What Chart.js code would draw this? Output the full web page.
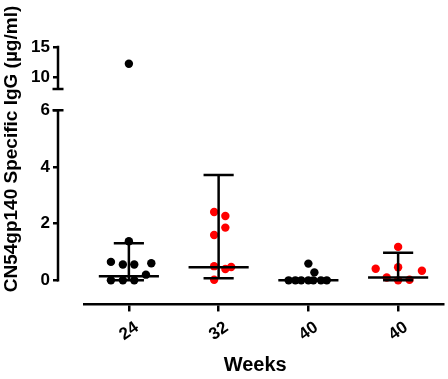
<!DOCTYPE html>
<html>
<head>
<meta charset="utf-8">
<script src="https://cdn.jsdelivr.net/npm/chart.js@4/dist/chart.umd.min.js"></script>
<style>
  html, body { margin: 0; padding: 0; background: #fff; }
</style>
</head>
<body>
<canvas id="igg_chart" width="448" height="379"></canvas>
<script>
var weeks = ['24', '32', '40', '40'];

// CN54gp140 specific IgG per animal (µg/ml)
var igg24 = [12.2, 1.38, 0.65, 0.56, 0.56, 0.6, 0.2, 0, 0, 0];
var igg32 = [2.41, 2.27, 1.86, 1.6, 0.5, 0.4, 0.47, 0.02];
var igg40a = [0.59, 0.28, 0, 0, 0, 0, 0, 0, 0];
var igg40b = [1.18, 0.41, 0.46, 0.34, 0.1, 0, 0.02];

// sideways scatter of the dots inside each column (category units)
var spread24 = [0, 0, -0.2, -0.067, 0.06, 0.25, 0.19, -0.2, -0.067, 0.06];
var spread32 = [-0.05, 0.075, 0.075, -0.05, -0.05, 0.075, 0.14, -0.05];
var spread40a = [0, 0.067, -0.22, -0.145, -0.08, 0, 0.056, 0.14, 0.205];
var spread40b = [0, -0.25, 0, 0.265, -0.127, 0, 0.127];

// median and bar ends
var medians = [0.14, 0.46, 0, 0.1];
var lows = [0, 0.07, 0, 0];
var highs = [1.31, 3.72, 0, 0.97];

var yTicksLow = [0, 2, 4, 6];
var yTicksHigh = [10, 15];
var breakLow = 6, breakHigh = 8;

var yTitle = 'CN54gp140 Specific IgG (\u00b5g/ml)';
var xTitle = 'Weeks';

var groups = [igg24, igg32, igg40a, igg40b];
var spreads = [spread24, spread32, spread40a, spread40b];
var dotColors = ['#000000', '#ff0000', '#000000', '#ff0000'];

var FONT = "'Liberation Sans', Arial, sans-serif";
Chart.defaults.font.family = FONT;
Chart.defaults.color = '#000';

var datasets = [];
groups.forEach(function (vals, i) {
   var low = [], high = [];
   vals.forEach(function (v, j) {
      var p = {x: i + spreads[i][j], y: v};
      if (v > breakLow) high.push(p); else low.push(p);
   });
   var dots = {
      type: 'scatter', order: 2, pointRadius: 4.2, pointBorderWidth: 0,
      backgroundColor: dotColors[i], borderColor: dotColors[i]
   };
   datasets.push(Object.assign({data: low, yAxisID: 'y'}, dots));
   if (high.length) datasets.push(Object.assign({data: high, yAxisID: 'y2'}, dots));

   // median line, whisker and caps
   var segs = [
      [[i - 0.335, medians[i]], [i + 0.335, medians[i]]],
      [[i, lows[i]], [i, highs[i]]],
      [[i - 0.168, highs[i]], [i + 0.168, highs[i]]],
      [[i - 0.168, lows[i]], [i + 0.168, lows[i]]]
   ];
   segs.forEach(function (s) {
      datasets.push({
         type: 'scatter', order: 1, showLine: true, yAxisID: 'y',
         data: s.map(function (q) { return {x: q[0], y: q[1]}; }),
         borderColor: '#000', borderWidth: 2.5, pointRadius: 0
      });
   });
});

var brokenAxis = {
   id: 'brokenAxis',
   afterDraw: function (chart) {
      var ctx = chart.ctx;
      var lo = chart.scales.y, hi = chart.scales.y2;
      var x = lo.right;
      ctx.save();
      ctx.strokeStyle = '#000';
      ctx.lineWidth = 2.5;
      ctx.beginPath();
      ctx.moveTo(x, lo.getPixelForValue(yTicksLow[0]) + 1.2);
      ctx.lineTo(x, lo.getPixelForValue(breakLow));
      ctx.moveTo(x - 5.5, lo.getPixelForValue(breakLow));
      ctx.lineTo(x + 5.5, lo.getPixelForValue(breakLow));
      ctx.moveTo(x, hi.getPixelForValue(breakHigh));
      ctx.lineTo(x, hi.getPixelForValue(yTicksHigh[yTicksHigh.length - 1]) - 1.2);
      ctx.moveTo(x - 5.5, hi.getPixelForValue(breakHigh));
      ctx.lineTo(x + 5.5, hi.getPixelForValue(breakHigh));
      ctx.stroke();
      // y title
      ctx.translate(12, 149);
      ctx.rotate(-Math.PI / 2);
      ctx.font = 'bold 19px ' + FONT;
      ctx.fillStyle = '#000';
      ctx.textAlign = 'center';
      ctx.textBaseline = 'middle';
      ctx.fillText(yTitle, 0, 0);
      ctx.restore();
   }
};

var tickFont = {size: 17, weight: 'bold'};
var yGrid = {display: true, drawOnChartArea: false, drawTicks: true, tickLength: 5, color: '#000', lineWidth: 2.5};

var ctx = document.getElementById('igg_chart').getContext('2d');
var igg_chart = new Chart(ctx, {
   type: 'scatter',
   data: {datasets: datasets},
   plugins: [brokenAxis],
   options: {
      responsive: false,
      animation: false,
      layout: {padding: {left: 0, right: 5, top: 0, bottom: 1}},
      plugins: {legend: {display: false}, tooltip: {enabled: false}},
      scales: {
         x: {
            type: 'linear', min: -0.5, max: 3.5,
            afterBuildTicks: function (scale) {
               scale.ticks = weeks.map(function (w, i) { return {value: i}; });
            },
            ticks: {
               font: tickFont, minRotation: 35, maxRotation: 35, padding: 6, labelOffset: 8,
               callback: function (v) { return weeks[Math.round(v)]; }
            },
            grid: {display: true, drawOnChartArea: false, tickLength: 7, color: '#000', lineWidth: 2.5},
            border: {display: true, color: '#000', width: 2.5},
            title: {display: true, text: xTitle + '\u00a0\u00a0\u00a0', font: {size: 20, weight: 'bold'}, padding: {top: 2, bottom: 1}}
         },
         y: {
            type: 'linear', position: 'left', stack: 'iggStack', stackWeight: 204, weight: 1,
            min: -0.851, max: 6.383,
            afterBuildTicks: function (scale) {
               scale.ticks = yTicksLow.map(function (v) { return {value: v}; });
            },
            afterFit: function (scale) { scale.width = 58; },
            ticks: {font: tickFont, padding: 3},
            grid: yGrid,
            border: {display: false}
         },
         y2: {
            type: 'linear', position: 'left', stack: 'iggStack', stackWeight: 85.8, weight: 1,
            min: 6.28, max: 20.58,
            afterBuildTicks: function (scale) {
               scale.ticks = yTicksHigh.map(function (v) { return {value: v}; });
            },
            afterFit: function (scale) { scale.width = 58; },
            ticks: {font: tickFont, padding: 3},
            grid: yGrid,
            border: {display: false}
         },
         gap: {
            type: 'linear', position: 'left', weight: 0, display: true,
            afterFit: function (scale) { scale.width = 26; },
            ticks: {display: false},
            grid: {display: false},
            border: {display: false}
         }
      }
   }
});
</script>
</body>
</html>
